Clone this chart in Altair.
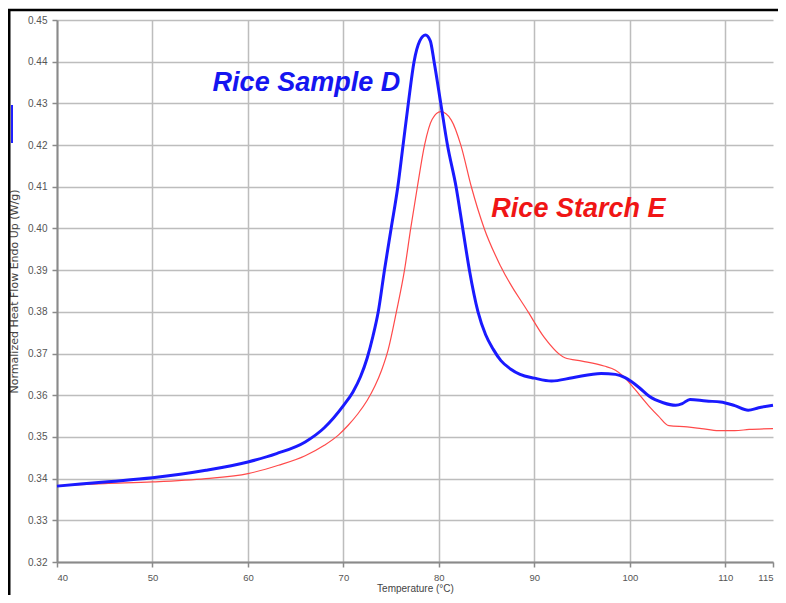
import altair as alt
import pandas as pd

# Rice Sample D (blue, thick)
blue_t = [40, 45, 50, 55.6, 60, 63, 66, 68, 70, 71.0, 71.8, 72.5, 73.1, 73.65, 74.3, 75.0,
          75.7, 76.25, 76.8, 77.4, 78.0, 78.6, 79.1, 79.5, 80.2, 80.9, 81.8, 82.5, 83.2,
          84.1, 84.9, 85.7, 86.5, 87.5, 88.5, 90, 91.8, 94, 97, 98.5, 99.5, 101, 102, 103.5,
          104.8, 105.5, 106.3, 108, 109.5, 111, 112.4, 113.5, 115]
blue_v = [0.3382, 0.3392, 0.3402, 0.3420, 0.3440, 0.3460, 0.3488, 0.3522, 0.3575, 0.3608,
          0.3645, 0.3690, 0.3742, 0.3800, 0.3900, 0.4000, 0.4100, 0.4200, 0.4300, 0.4400,
          0.4450, 0.4464, 0.4450, 0.4400, 0.4300, 0.4200, 0.4100, 0.4000, 0.3900, 0.3800,
          0.3745, 0.3710, 0.3683, 0.3663, 0.3650, 0.3641, 0.3634, 0.3642, 0.3652, 0.3650,
          0.3642, 0.3618, 0.3598, 0.3582, 0.3576, 0.3580, 0.3590, 0.3586, 0.3584, 0.3575,
          0.3564, 0.3570, 0.3576]

# Rice Starch E (red, thin)
red_t = [40, 45, 50, 55.6, 60, 63.2, 66, 68, 69.5, 70.5, 71.5, 72.5, 73.3, 74.0, 74.7,
         75.55, 76.4, 77.05, 77.75, 78.5, 79.3, 80.2, 81.3, 82.3, 83.4, 84.75, 86.5, 89.4,
         91, 93.2, 95, 97.3, 98.5, 99.3, 100.5, 102, 103, 104.1, 106, 107.5, 109.3, 111,
         112.5, 115]
red_v = [0.3383, 0.3388, 0.3392, 0.3400, 0.3412, 0.3432, 0.3455, 0.3480, 0.3505, 0.3528,
         0.3555, 0.3588, 0.3622, 0.3660, 0.3710, 0.3800, 0.3900, 0.4000, 0.4100, 0.4200,
         0.4262, 0.4280, 0.4260, 0.4200, 0.4100, 0.4000, 0.3908, 0.3798, 0.3740, 0.3690,
         0.3682, 0.3670, 0.3660, 0.3646, 0.3615, 0.3574, 0.3550, 0.3527, 0.3524, 0.3520,
         0.3515, 0.3515, 0.3518, 0.3520]

x_ticks = [40, 50, 60, 70, 80, 90, 100, 110, 115]
y_ticks = [0.32, 0.33, 0.34, 0.35, 0.36, 0.37, 0.38, 0.39, 0.40, 0.41, 0.42, 0.43, 0.44, 0.45]

labels = ["Rice Sample D", "Rice Starch E"]
label_t = [56.3, 85.5]
label_v = [0.4349, 0.4047]
label_colors = ["#1515f0", "#f01515"]

df_blue = pd.DataFrame({"t": blue_t, "v": blue_v})
df_red = pd.DataFrame({"t": red_t, "v": red_v})
df_lab = pd.DataFrame({"t": label_t, "v": label_v, "label": labels, "c": label_colors})
one = pd.DataFrame({"a": [0]})

xscale = alt.Scale(domain=[40, 115], nice=False, zero=False)
yscale = alt.Scale(domain=[0.32, 0.45], nice=False, zero=False)

xaxis = alt.Axis(
    values=x_ticks, format="d", title="Temperature (°C)",
    grid=True, gridColor="#bdbdbd", gridWidth=1.5,
    gridOpacity={"condition": {"test": "datum.value >= 115", "value": 0}, "value": 1},
    domainColor="#8a8a8a", domainWidth=2, tickColor="#8a8a8a", tickSize=5, tickWidth=1.5,
    labelFont="Liberation Sans", labelFontSize=9.5, labelColor="#555555", labelPadding=5,
    titleFont="Liberation Sans", titleFontSize=10, titleFontWeight="normal", titleColor="#444444",
    titlePadding=2,
)
yaxis = alt.Axis(
    values=y_ticks, format=".2f", title="Normalized Heat Flow Endo Up (W/g)",
    grid=True, gridColor="#bdbdbd", gridWidth=1.5,
    domainColor="#8a8a8a", domainWidth=2, tickColor="#8a8a8a", tickSize=5, tickWidth=1.5,
    labelFont="Liberation Sans", labelFontSize=10, labelColor="#555555", labelPadding=5,
    titleFont="DejaVu Sans", titleFontSize=11, titleFontWeight="normal", titleColor="#444444",
    titlePadding=8,
)

base_red = alt.Chart(df_red).mark_line(
    color="#ff4a4a", strokeWidth=1.2, interpolate="monotone"
).encode(
    x=alt.X("t:Q", scale=xscale, axis=xaxis),
    y=alt.Y("v:Q", scale=yscale, axis=yaxis),
)
line_blue = alt.Chart(df_blue).mark_line(
    color="#1a1aff", strokeWidth=3, interpolate="monotone"
).encode(
    x=alt.X("t:Q", scale=xscale),
    y=alt.Y("v:Q", scale=yscale),
)
text = alt.Chart(df_lab).mark_text(
    font="Liberation Sans", fontSize=27, fontWeight="bold", fontStyle="italic",
    align="left", baseline="middle"
).encode(
    x=alt.X("t:Q", scale=xscale),
    y=alt.Y("v:Q", scale=yscale),
    text="label:N",
    color=alt.Color("c:N", scale=None),
)
frame_top = alt.Chart(one).mark_rule(color="black", strokeWidth=2.5).encode(
    x=alt.value(-49), x2=alt.value(740), y=alt.value(-10)
)
frame_left = alt.Chart(one).mark_rule(color="black", strokeWidth=3).encode(
    x=alt.value(-48), y=alt.value(-11), y2=alt.value(600)
)
legend_stub = alt.Chart(one).mark_rule(color="#2020ff", strokeWidth=2).encode(
    x=alt.value(-45), y=alt.value(85), y2=alt.value(123)
)

chart = alt.layer(base_red, line_blue, text, frame_top, frame_left, legend_stub).properties(
    width=716, height=542,
    autosize=alt.AutoSizeParams(type="none"),
    padding={"left": 49, "top": 12, "right": 5, "bottom": 33},
    background="white",
).configure_view(stroke=None)

chart.save("out.html", embed_options={"renderer": "svg", "actions": False})
